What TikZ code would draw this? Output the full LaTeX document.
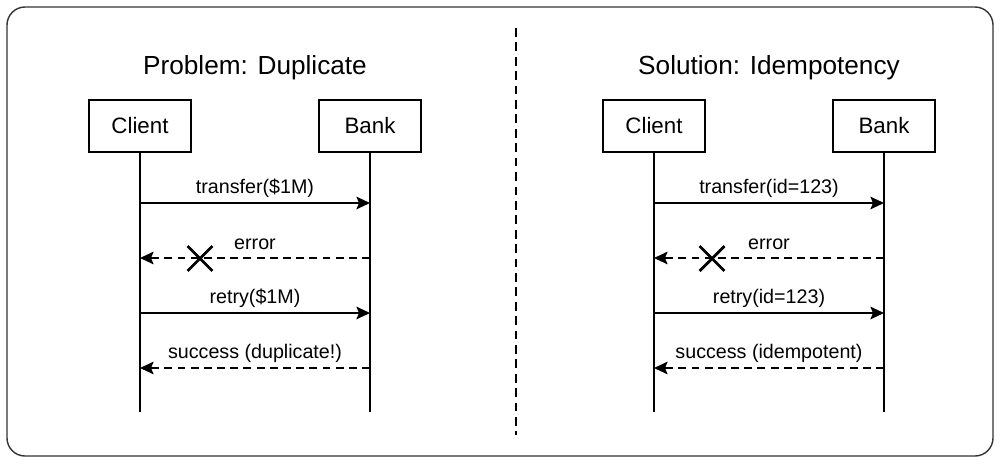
\documentclass[tikz,border=0pt]{standalone}
\usepackage{fontspec}
\setmainfont{Liberation Sans}
\usetikzlibrary{arrows.meta, positioning, shapes.misc}

\begin{document}
\begin{tikzpicture}[
    actor/.style={draw, line width=1.2pt, minimum width=2.04cm, minimum height=1.04cm, font=\fontsize{12.7}{15}\selectfont},
    title/.style={font=\fontsize{14.9}{18}\selectfont},
    life/.style={line width=1.2pt},
    call/.style={-{Stealth[length=2.7mm, width=2.5mm, inset=0.5mm]}, line width=1.35pt},
    reply/.style={-{Stealth[length=2.7mm, width=2.5mm, inset=0.5mm]}, line width=1.2pt, dash pattern=on 4.5pt off 3pt},
    msg/.style={font=\fontsize{11.2}{13}\selectfont, inner sep=2.5pt},
    lost/.style={cross out, draw, line width=1.6pt, minimum size=0.44cm, inner sep=0pt}
]
    \useasboundingbox (0,0) rectangle (20,-9.26);

    % Frame and divider
    \draw[line width=0.8pt, black!80, rounded corners=0.36cm] (0.14,-0.14) rectangle (19.86,-9.12);
    \coordinate (divtop) at (10.32,-0.56);
    \coordinate (divbot) at (10.32,-8.7);
    \draw[line width=1.4pt, dash pattern=on 5pt off 3.2pt] (divtop) -- (divbot);

    % Message rows
    \coordinate (m1) at (0,-4.06);
    \coordinate (m2) at (0,-5.16);
    \coordinate (m3) at (0,-6.26);
    \coordinate (m4) at (0,-7.36);
    \coordinate (end) at (0,-8.24);

    % Problem side
    \node[title] (ptitle) at (5.1,-1.36) {Problem: Duplicate};
    \node[actor] (pclient) at (2.8,-2.52) {Client};
    \node[actor] (pbank)   at (7.4,-2.52) {Bank};
    \draw[life] (pclient.south) -- (pclient |- end);
    \draw[life] (pbank.south) -- (pbank |- end);

    \draw[call] (pclient |- m1) -- node[msg, above] {transfer(\$1M)} (pbank |- m1);
    \draw[reply] (pbank |- m2) -- node[msg, above, yshift=0.05cm] {error} (pclient |- m2);
    \node[lost] (px) at (4.0,-5.17) {};
    \draw[call] (pclient |- m3) -- node[msg, above] {retry(\$1M)} (pbank |- m3);
    \draw[reply] (pbank |- m4) -- node[msg, above] {success (duplicate!)} (pclient |- m4);

    % Solution side
    \node[title] (stitle) at (15.38,-1.36) {Solution: Idempotency};
    \node[actor] (sclient) at (13.08,-2.52) {Client};
    \node[actor] (sbank)   at (17.68,-2.52) {Bank};
    \draw[life] (sclient.south) -- (sclient |- end);
    \draw[life] (sbank.south) -- (sbank |- end);

    \draw[call] (sclient |- m1) -- node[msg, above] {transfer(id=123)} (sbank |- m1);
    \draw[reply] (sbank |- m2) -- node[msg, above, yshift=0.05cm] {error} (sclient |- m2);
    \node[lost] (sx) at (14.24,-5.17) {};
    \draw[call] (sclient |- m3) -- node[msg, above] {retry(id=123)} (sbank |- m3);
    \draw[reply] (sbank |- m4) -- node[msg, above] {success (idempotent)} (sclient |- m4);
\end{tikzpicture}
\end{document}
